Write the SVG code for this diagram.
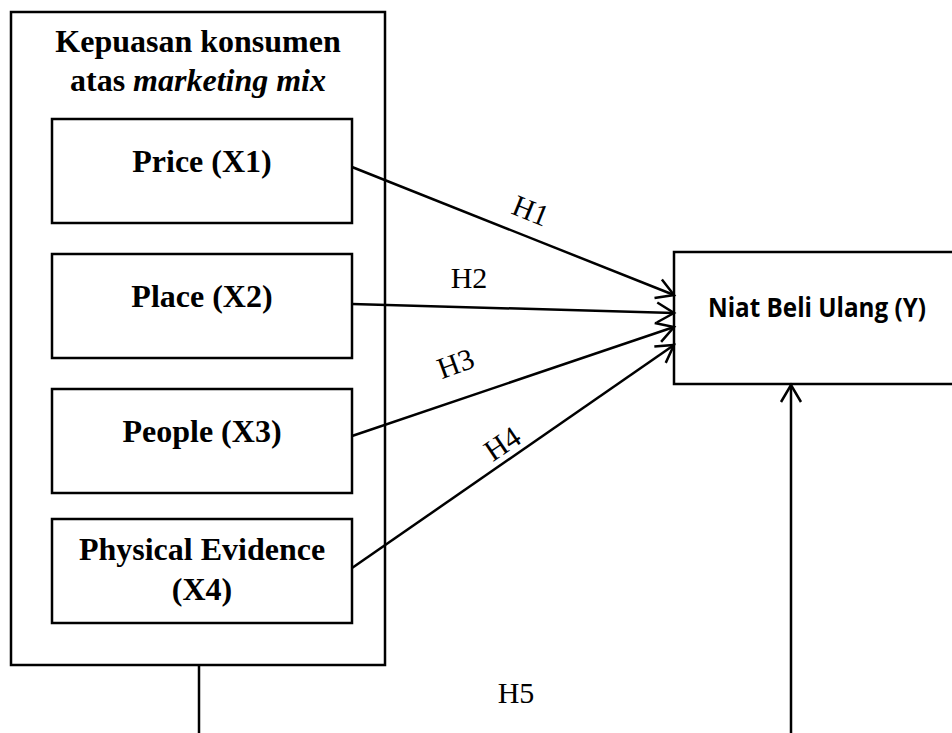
<svg xmlns="http://www.w3.org/2000/svg" width="952" height="733" viewBox="0 0 952 733">
<style>
.box{fill:#fff;stroke:#000;stroke-width:2.5}
.lbl{font-family:"Liberation Serif","Times New Roman",serif;font-weight:bold;font-size:32px;text-anchor:middle;fill:#000}
.h{font-family:"Liberation Serif","Times New Roman",serif;font-size:30px;text-anchor:middle;fill:#000}
.y{font-family:"Open Sans","Noto Sans",sans-serif;font-weight:bold;font-size:26px;text-anchor:middle;fill:#000}
.con{stroke:#000;stroke-width:2.5;fill:none}
</style>
<defs>
<marker id="arr" markerUnits="userSpaceOnUse" markerWidth="40" markerHeight="40" viewBox="-20 -20 40 40" refX="0" refY="0" orient="auto">
<path d="M-17,-10 L0,0 L-17,10" fill="none" stroke="#000" stroke-width="2.5"/>
</marker>
</defs>
<g id="group-x">
<rect class="box" x="11" y="12" width="374" height="653"/>
<text class="lbl" x="198" y="52">Kepuasan konsumen</text>
<text class="lbl" x="198" y="91">atas <tspan font-style="italic">marketing mix</tspan></text>
</g>
<g id="x1">
<rect class="box" x="52" y="119" width="300" height="104"/>
<text class="lbl" x="202" y="172">Price (X1)</text>
</g>
<g id="x2">
<rect class="box" x="52" y="254" width="300" height="104"/>
<text class="lbl" x="202" y="307">Place (X2)</text>
</g>
<g id="x3">
<rect class="box" x="52" y="389" width="300" height="104"/>
<text class="lbl" x="202" y="442">People (X3)</text>
</g>
<g id="x4">
<rect class="box" x="52" y="519" width="300" height="104"/>
<text class="lbl" x="202" y="560">Physical Evidence</text>
<text class="lbl" x="202" y="600">(X4)</text>
</g>
<g id="y">
<rect class="box" x="674" y="252" width="290" height="132"/>
<text class="y" x="817" y="317" textLength="218" lengthAdjust="spacingAndGlyphs">Niat Beli Ulang (Y)</text>
</g>
<g id="connectors">
<line class="con" x1="352" y1="167" x2="674" y2="295" marker-end="url(#arr)"/>
<line class="con" x1="352" y1="304" x2="674" y2="313" marker-end="url(#arr)"/>
<line class="con" x1="352" y1="436" x2="674" y2="327" marker-end="url(#arr)"/>
<line class="con" x1="352" y1="568" x2="674" y2="345" marker-end="url(#arr)"/>
<line class="con" x1="199" y1="665" x2="199" y2="733"/>
<line class="con" x1="791" y1="733" x2="791" y2="385" marker-end="url(#arr)"/>
<text class="h" transform="translate(527 220) rotate(22)">H1</text>
<text class="h" x="469" y="288">H2</text>
<text class="h" transform="translate(459 373) rotate(-20)">H3</text>
<text class="h" transform="translate(508 452) rotate(-34)">H4</text>
<text class="h" x="516" y="703">H5</text>
</g>
</svg>
